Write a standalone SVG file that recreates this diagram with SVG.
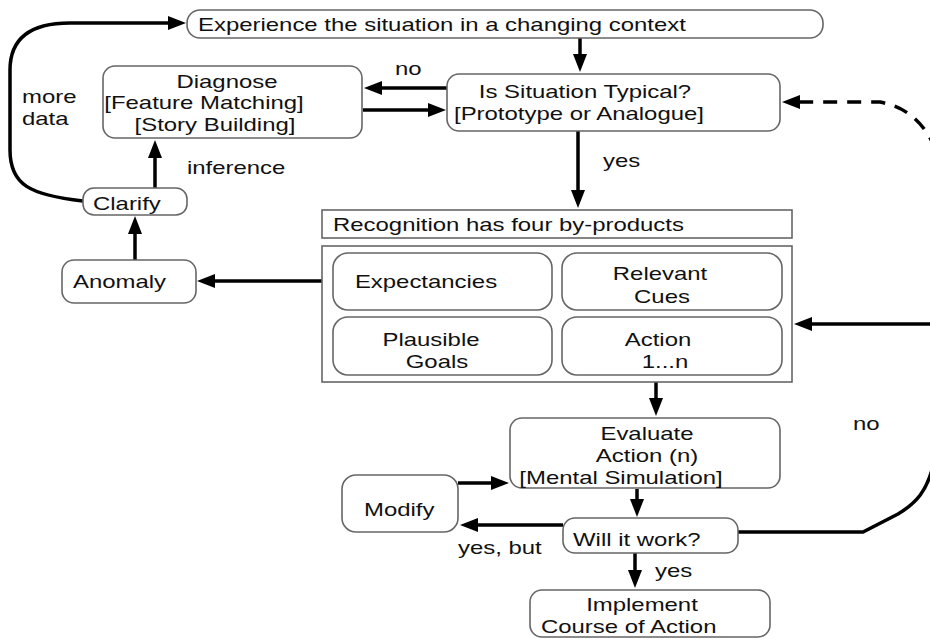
<svg xmlns="http://www.w3.org/2000/svg" width="930" height="639" viewBox="0 0 930 639">
<style>
.box{fill:#fff;stroke:#666;stroke-width:1.6}
.t{font-family:"Liberation Sans",Arial,sans-serif;font-size:18px;fill:#111}
.m{text-anchor:middle}
.c{fill:none;stroke:#000;stroke-width:3.5}
.d{stroke-dasharray:14 10}
</style>
<defs>
<marker id="ah" markerUnits="userSpaceOnUse" markerWidth="20" markerHeight="16" refX="2" refY="7" orient="auto">
<path d="M0,0 L18,7 L0,14 z" fill="#000"/>
</marker>
</defs>
<rect width="930" height="639" fill="#fff"/>
<g id="connectors">
<path class="c" d="M580,38 V56" marker-end="url(#ah)"/>
<path class="c" d="M447,88 H380" marker-end="url(#ah)"/>
<path class="c" d="M363,110 H430" marker-end="url(#ah)"/>
<path class="c" d="M155,188 V156" marker-end="url(#ah)"/>
<path class="c" d="M83,201 C30,195 10,185 10,150 V70 C10,35 35,23 70,23 H170" marker-end="url(#ah)"/>
<path class="c" d="M135,260 V232" marker-end="url(#ah)"/>
<path class="c" d="M333,281 H213" marker-end="url(#ah)"/>
<path class="c" d="M578,131 V192" marker-end="url(#ah)"/>
<path class="c" d="M930,324 H810" marker-end="url(#ah)"/>
<path class="c" d="M656,382 V400" marker-end="url(#ah)"/>
<path class="c" d="M458,483 H493" marker-end="url(#ah)"/>
<path class="c" d="M637,489 V501" marker-end="url(#ah)"/>
<path class="c" d="M563,525 H476" marker-end="url(#ah)"/>
<path class="c" d="M635,553 V572" marker-end="url(#ah)"/>
<path class="c" d="M738,532 H863 L898,514 C918,502 926,490 932,470"/>
<path class="c d" d="M936,150 C925,125 910,108 880,102 H798" marker-end="url(#ah)"/>
</g>
<g id="experience">
<rect class="box" x="187" y="10" width="636" height="28" rx="13"/>
<text class="t" transform="translate(198 31) scale(1.33 1)">Experience the situation in a changing context</text>
</g>
<g id="typical">
<rect class="box" x="447" y="74" width="333" height="57" rx="12"/>
<text class="t m" transform="translate(585 98) scale(1.33 1)">Is Situation Typical?</text>
<text class="t" transform="translate(454 120) scale(1.33 1)">[Prototype or Analogue]</text>
</g>
<g id="diagnose">
<rect class="box" x="103" y="66" width="259" height="72" rx="12"/>
<text class="t m" transform="translate(227 88) scale(1.33 1)">Diagnose</text>
<text class="t m" transform="translate(204 109) scale(1.33 1)">[Feature Matching]</text>
<text class="t m" transform="translate(215 131) scale(1.33 1)">[Story Building]</text>
</g>
<g id="clarify">
<rect class="box" x="83" y="188" width="104" height="27" rx="11"/>
<text class="t" transform="translate(93 210) scale(1.33 1)">Clarify</text>
</g>
<g id="anomaly">
<rect class="box" x="62" y="260" width="134" height="43" rx="12"/>
<text class="t" transform="translate(73 288) scale(1.33 1)">Anomaly</text>
</g>
<g id="recognition">
<rect class="box" x="322" y="210" width="470" height="28"/>
<text class="t" transform="translate(333 231) scale(1.33 1)">Recognition has four by-products</text>
<rect class="box" x="322" y="246" width="470" height="136"/>
</g>
<g id="expectancies">
<rect class="box" x="333" y="253" width="219" height="57" rx="15"/>
<text class="t m" transform="translate(426 288) scale(1.33 1)">Expectancies</text>
</g>
<g id="cues">
<rect class="box" x="562" y="253" width="220" height="57" rx="15"/>
<text class="t m" transform="translate(660 280) scale(1.33 1)">Relevant</text>
<text class="t m" transform="translate(662 303) scale(1.33 1)">Cues</text>
</g>
<g id="goals">
<rect class="box" x="333" y="317" width="219" height="58" rx="15"/>
<text class="t m" transform="translate(431 346) scale(1.33 1)">Plausible</text>
<text class="t m" transform="translate(437 368) scale(1.33 1)">Goals</text>
</g>
<g id="action">
<rect class="box" x="562" y="317" width="220" height="58" rx="15"/>
<text class="t m" transform="translate(658 346) scale(1.33 1)">Action</text>
<text class="t m" transform="translate(665 368) scale(1.33 1)">1...n</text>
</g>
<g id="evaluate">
<rect class="box" x="510" y="418" width="270" height="70" rx="12"/>
<text class="t m" transform="translate(647 440) scale(1.33 1)">Evaluate</text>
<text class="t m" transform="translate(647 462) scale(1.33 1)">Action (n)</text>
<text class="t m" transform="translate(621 484) scale(1.33 1)">[Mental Simulation]</text>
</g>
<g id="modify">
<rect class="box" x="342" y="475" width="116" height="57" rx="14"/>
<text class="t" transform="translate(364 516) scale(1.33 1)">Modify</text>
</g>
<g id="willwork">
<rect class="box" x="563" y="518" width="175" height="35" rx="12"/>
<text class="t" transform="translate(573 546) scale(1.33 1)">Will it work?</text>
</g>
<g id="implement">
<rect class="box" x="530" y="590" width="240" height="47" rx="12"/>
<text class="t m" transform="translate(642 611) scale(1.33 1)">Implement</text>
<text class="t" transform="translate(541 633) scale(1.33 1)">Course of Action</text>
</g>
<g id="labels">
<text class="t" transform="translate(395 75) scale(1.33 1)">no</text>
<text class="t" transform="translate(22 103) scale(1.33 1)">more</text>
<text class="t" transform="translate(22 125) scale(1.33 1)">data</text>
<text class="t" transform="translate(187 174) scale(1.33 1)">inference</text>
<text class="t" transform="translate(603 167) scale(1.33 1)">yes</text>
<text class="t" transform="translate(853 430) scale(1.33 1)">no</text>
<text class="t" transform="translate(458 554) scale(1.33 1)">yes, but</text>
<text class="t" transform="translate(655 577) scale(1.33 1)">yes</text>
</g>
</svg>
